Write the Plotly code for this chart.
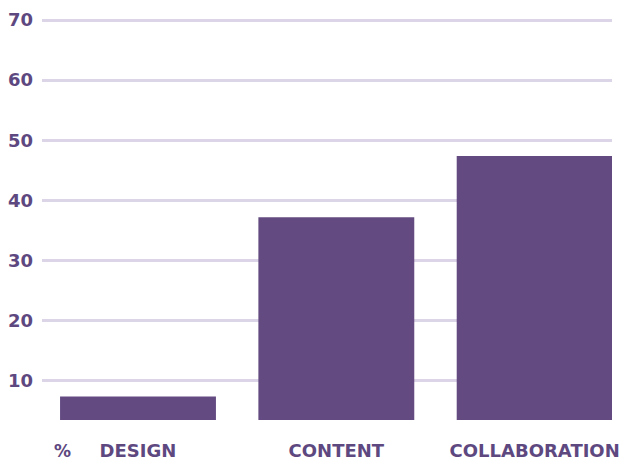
import plotly.graph_objects as go

categories = ["DESIGN", "CONTENT", "COLLABORATION"]
values = [7.4, 37.2, 47.4]
y_ticks = [10, 20, 30, 40, 50, 60, 70]

text_color = "#5e4880"
bar_color = "#634b82"
grid_color = "#dcd4e7"
font_family = "DejaVu Sans"

fig = go.Figure()
fig.add_trace(go.Bar(
    x=list(range(len(categories))),
    y=values,
    width=0.786,
    marker=dict(color=bar_color, line=dict(width=0)),
    hoverinfo="skip",
))

fig.update_layout(
    width=632, height=461,
    margin=dict(l=42, r=20, t=14, b=41),
    paper_bgcolor="white", plot_bgcolor="white",
    showlegend=False,
    font=dict(family=font_family, color=text_color),
    xaxis=dict(
        range=[-0.484, 2.39],
        tickmode="array",
        tickvals=list(range(len(categories))),
        ticktext=categories,
        showgrid=False, zeroline=False, showline=False,
        ticks="", automargin=False,
        tickfont=dict(size=18, family=font_family, color=text_color, weight=700),
        ticklabelstandoff=18,
    ),
    yaxis=dict(
        range=[3.5, 71],
        tickmode="array",
        tickvals=y_ticks,
        showgrid=True, gridcolor=grid_color, gridwidth=2.5,
        zeroline=False, showline=False,
        ticks="", automargin=False,
        tickfont=dict(size=18, family=font_family, color=text_color, weight=700),
        ticklabelstandoff=8,
    ),
    annotations=[dict(
        text="%", xref="paper", yref="paper", x=0.018, y=-0.077,
        xanchor="left", yanchor="middle", showarrow=False,
        font=dict(size=17, family=font_family, color=text_color, weight=700),
    )],
)

fig.write_html("out.html")
